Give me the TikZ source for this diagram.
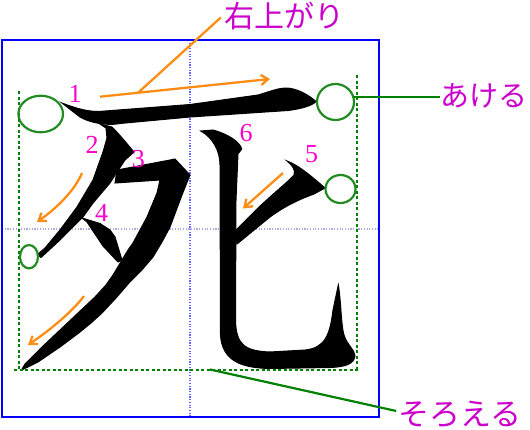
\documentclass[tikz,border=0pt]{standalone}
\usepackage{fontspec}
\newfontfamily\jpfont{Noto Sans CJK JP}
\newfontfamily\numfont{Liberation Serif}
\usetikzlibrary{shapes.geometric,arrows.meta,calc}
\definecolor{labc}{RGB}{204,0,204}
\definecolor{numc}{RGB}{255,0,204}
\definecolor{orng}{RGB}{255,140,20}
\definecolor{grn}{RGB}{0,128,0}
\definecolor{ellc}{RGB}{34,139,34}
\definecolor{gdot}{RGB}{170,170,225}
\definecolor{bdot}{RGB}{100,100,255}
\begin{document}
\begin{tikzpicture}[x=1pt,y=-1pt,
  guide/.style={grn,line width=2.2pt,dash pattern=on 3pt off 2.5pt},
  ov/.style={ellipse,draw=ellc,line width=2.2pt,inner sep=0pt,outer sep=0pt},
  lab/.style={text=labc,inner sep=0pt,font=\jpfont\fontsize{30}{30}\selectfont},
  num/.style={text=numc,inner sep=0pt,font=\numfont\fontsize{26}{26}\selectfont},
  orarrow/.style={orng,line width=2.3pt,-{Straight Barb[length=7pt,width=10pt]}},
  glyph/.style={fill=black,draw=black,line width=1pt,line join=miter}]
\useasboundingbox (0,0) rectangle (530,429);
% guides
\draw[bdot,line width=1.2pt,dash pattern=on 1.2pt off 1.5pt] (190,40) -- (190,417);
\draw[gdot,line width=1.2pt,dash pattern=on 1.2pt off 1.5pt] (2,229) -- (379,229);
% glyph strokes
\filldraw[glyph] (62,103) .. controls (75,108) and (90,113) .. (105,111) -- (190,104.5) -- (258,95)
  .. controls (270,91.5) and (278,88) .. (287,88) .. controls (298,88.5) and (310,96) .. (316,101.5)
  .. controls (312,106) and (300,109) .. (288,110.5) -- (190,117) -- (120,123.5)
  .. controls (108,126) and (90,123) .. (80,117) .. controls (72,111) and (66,106) .. cycle;
\filldraw[glyph] (100,124) -- (112,127) .. controls (120,135) and (128,145) .. (134,152) -- (125,160) -- (117,172)
  -- (110,183) -- (93,203) -- (83,217) -- (60,240) -- (41,257.5) -- (37.5,254.5) -- (45,248) -- (60,230)
  -- (77,207) -- (93,180) -- (103,152) -- (107,138) -- (106,128) -- cycle;
\filldraw[glyph] (117,170) -- (170,160) -- (175,159) -- (190,175) -- (186,185) -- (182,195) -- (176,211)
  -- (170,227) -- (162,242) -- (153,257) -- (141,271) -- (129,283) -- (116,298) -- (102,313) -- (91,323)
  -- (80,332) -- (60,347) -- (38,362) -- (28,367) -- (21.5,370) -- (25,364) -- (33,356) -- (42,347)
  -- (60,330) -- (78,313) -- (95,297) -- (106,285) -- (113,275) -- (122,260) -- (128,250) -- (133,243)
  -- (140,230) -- (147,217) -- (152,205) -- (157,193) -- (160,180) -- (115,183) -- cycle;
\filldraw[glyph] (82,218) -- (100,223.5) -- (110,230) -- (115,237) -- (122,260) -- (118,262)
  -- (103,246) -- (87,222) -- cycle;
\filldraw[glyph] (287,161) .. controls (298,165) and (310,175) .. (325,188) -- (314,194)
  .. controls (300,199) and (285,206) .. (270,217) -- (237,244) -- (235,231) -- (258,208)
  .. controls (275,192) and (290,180) .. (294,175) .. controls (296,170) and (292,165) .. cycle;
\filldraw[glyph] (200.7,131) -- (213,130) .. controls (228,134) and (240,142) .. (241.7,149) -- (238,154) -- (236,200)
  -- (235.5,320) .. controls (236,345) and (245,351) .. (270,352) -- (305,350)
  .. controls (325,348) and (330,335) .. (333,310) -- (338.3,285)
  .. controls (341,300) and (341,325) .. (344,335) .. controls (347,345) and (355,350) .. (355,356)
  .. controls (354,364) and (345,367) .. (330,367.5) -- (270,368.5)
  .. controls (240,368) and (222,360) .. (220.5,335) -- (220,165)
  .. controls (220,150) and (212,137) .. cycle;
% frame
\draw[blue,line width=2.6pt] (2,40) rectangle (379,417);
% green dashed guides
\coordinate (lt) at (19,91);  \coordinate (lb) at (19,370);
\coordinate (rt) at (357,75); \coordinate (rb) at (357,370);
\coordinate (bl) at (14,370); \coordinate (br) at (358,370);
\draw[guide] (lt) -- (lb);
\draw[guide] (rt) -- (rb);
\draw[guide] (bl) -- (br);
% ellipses
\node[ov,minimum width=44.6pt,minimum height=36.6pt] (e1) at (40.7,114) {};
\node[ov,minimum width=37pt,minimum height=36pt] (e2) at (335.5,102) {};
\node[ov,minimum width=30pt,minimum height=28pt] (e3) at (340.5,189) {};
\node[ov,minimum width=18pt,minimum height=23.4pt] (e4) at (29,256.7) {};
% labels
\node[lab] (migi) at (284,16.5) {右上がり};
\node[lab,font=\jpfont\fontsize{29}{29}\selectfont] (akeru) at (483.5,96) {あける};
\node[lab,font=\jpfont\fontsize{31}{31}\selectfont] (soroeru) at (460,414) {そろえる};
\draw[grn,line width=2.2pt] (e2.17) -- (e2.17 -| akeru.west);
\coordinate (sr) at (210,369.5);
\draw[grn,line width=2.2pt] (sr) -- ($(soroeru.west)+(-2,-3)$);
% numbers
\node[num] (n1) at (75,94) {1};
\node[num] (n2) at (92,145) {2};
\node[num] (n3) at (138.3,159.3) {3};
\node[num] (n4) at (101.7,213.3) {4};
\node[num] (n5) at (311.7,154.3) {5};
\node[num] (n6) at (246,133.3) {6};
% orange arrows
\coordinate (a1s) at (100,96.7); \coordinate (a1e) at (270,79);
\draw[orarrow] (a1s) -- (a1e);
\coordinate (ua) at ($(a1s)!0.224!(a1e)$);
\draw[orng,line width=2.3pt] (migi.west) ++(-3,1) -- (ua);
\coordinate (a2s) at (82,173); \coordinate (a2e) at (37,222);
\draw[orarrow] (a2s) .. controls (75,190) and (57,208) .. (a2e);
\coordinate (a3s) at (84,296); \coordinate (a3e) at (28,345);
\draw[orarrow] (a3s) .. controls (72,312) and (50,330) .. (a3e);
\coordinate (a5s) at (283,173); \coordinate (a5e) at (243,208.5);
\draw[orarrow] (a5s) -- (a5e);
\end{tikzpicture}
\end{document}
